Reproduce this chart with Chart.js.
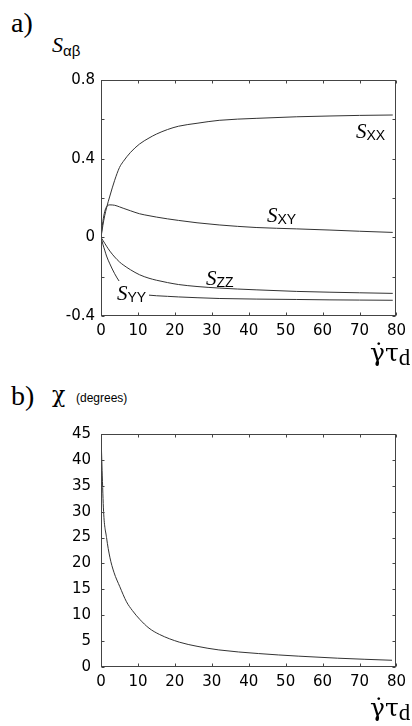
<!DOCTYPE html>
<html>
<head>
<meta charset="utf-8">
<script src="https://cdn.jsdelivr.net/npm/chart.js@4"></script>
<style>
  body { margin: 0; background: #fff; width: 412px; height: 726px; position: relative; overflow: hidden; }
  canvas { position: absolute; left: 0; }
</style>
</head>
<body>
<canvas id="orderChart" width="412" height="285" style="top:60px"></canvas>
<canvas id="angleChart" width="412" height="285" style="top:414px"></canvas>
<script>
// shear rate (gamma-dot tau_d) where the order tensor curves were read
const shearRate = [0, 0.5, 1, 1.5, 2.4, 3.7, 5, 6, 8, 10.4, 13, 15, 18, 21, 26, 32, 42, 53, 62, 70, 79];
const sXX = [0, 0.06, 0.11, 0.15, 0.21, 0.29, 0.355, 0.385, 0.432, 0.474, 0.505, 0.525, 0.548, 0.565, 0.58, 0.595, 0.605, 0.613, 0.617, 0.62, 0.622];
const sXY = [0, 0.08, 0.13, 0.155, 0.165, 0.163, 0.155, 0.148, 0.135, 0.12, 0.11, 0.103, 0.094, 0.086, 0.074, 0.063, 0.05, 0.043, 0.037, 0.031, 0.025];
const sZZ = [0, -0.015, -0.03, -0.045, -0.07, -0.1, -0.125, -0.14, -0.165, -0.19, -0.208, -0.218, -0.23, -0.24, -0.25, -0.258, -0.267, -0.275, -0.279, -0.282, -0.285];
const sYY = [0, -0.035, -0.065, -0.095, -0.135, -0.185, -0.225, -0.245, -0.27, -0.286, -0.294, -0.297, -0.3, -0.303, -0.307, -0.311, -0.314, -0.316, -0.318, -0.319, -0.32];

// extinction angle chi (degrees)
const chiShear = [0, 0.3, 0.7, 1.5, 2.4, 3.5, 5.1, 6.9, 8.5, 10.5, 13, 15.8, 21.2, 26, 31.9, 42.6, 53.4, 64.1, 78.8];
const chiDeg = [45, 38, 30, 25, 21.2, 18.3, 15.5, 12.6, 10.9, 9.2, 7.5, 6.3, 4.8, 4.0, 3.3, 2.6, 2.1, 1.7, 1.3];

const sTickLabels = ['-0.4', '0', '0.4', '0.8'];

const lineColor = '#333';
const sans = "'Liberation Sans', Arial, sans-serif";
const serif = "'Liberation Serif', 'Times New Roman', serif";
const greek = "'DejaVu Serif', serif";

Chart.defaults.font.family = "'DejaVu Sans', sans-serif";
Chart.defaults.color = '#000';

const pts = (xs, ys) => xs.map((x, i) => ({ x, y: ys[i] }));

// frame plus small inward tick marks on all four sides, taken from the scale ticks
const frameTicks = {
  id: 'frameTicks',
  afterDraw(chart) {
    const { ctx, chartArea: a, scales: { x, y } } = chart;
    const L = Math.round(a.left) + 0.5, R = Math.round(a.right) - 0.5;
    const T = Math.round(a.top) + 0.5, B = Math.round(a.bottom) - 0.5;
    ctx.save();
    ctx.strokeStyle = '#444';
    ctx.lineWidth = 1;
    ctx.strokeRect(L, T, R - L, B - T);
    ctx.beginPath();
    x.ticks.forEach(t => {
      const px = Math.round(x.getPixelForValue(t.value)) + 0.5;
      ctx.moveTo(px, B); ctx.lineTo(px, B - 3);
      ctx.moveTo(px, T); ctx.lineTo(px, T + 3);
    });
    y.ticks.forEach(t => {
      const py = Math.round(y.getPixelForValue(t.value)) + 0.5;
      ctx.moveTo(L, py); ctx.lineTo(L + 3, py);
      ctx.moveTo(R, py); ctx.lineTo(R - 3, py);
    });
    ctx.stroke();
    ctx.restore();
  }
};

function lineSet(data) {
  return { data, borderColor: lineColor, borderWidth: 1, pointRadius: 0, fill: false, cubicInterpolationMode: 'monotone' };
}

function makeChart(id, datasets, yOpts, xHeight) {
  return new Chart(document.getElementById(id), {
    type: 'line',
    data: { datasets },
    options: {
      responsive: false,
      animation: false,
      devicePixelRatio: 1,
      layout: { padding: { top: 20, right: 12, bottom: 0, left: 0 } },
      plugins: { legend: { display: false }, tooltip: { enabled: false } },
      scales: {
        x: {
          type: 'linear', min: 0, max: 80,
          grid: { display: false, drawTicks: false }, border: { display: false },
          ticks: { stepSize: 10, autoSkip: false, maxRotation: 0, padding: 6, font: { size: 15 } },
          afterFit(s) { s.height = xHeight; }
        },
        y: Object.assign({
          grid: { display: false, drawTicks: false }, border: { display: false },
          afterFit(s) { s.width = 101; }
        }, yOpts)
      }
    },
    plugins: [frameTicks]
  });
}

makeChart('orderChart', [
  lineSet(pts(shearRate, sXX)),
  lineSet(pts(shearRate, sXY)),
  lineSet(pts(shearRate, sZZ)),
  lineSet(pts(shearRate, sYY))
], {
  min: -0.4, max: 0.8,
  ticks: {
    stepSize: 0.2, autoSkip: false, padding: 6, font: { size: 15 },
    callback(v) { const s = String(+v.toFixed(1)); return sTickLabels.includes(s) ? s : ''; }
  }
}, 29);

makeChart('angleChart', [
  lineSet(pts(chiShear, chiDeg))
], {
  min: 0, max: 45,
  ticks: { stepSize: 5, autoSkip: false, padding: 10, font: { size: 15 } }
}, 32);

// text placed by baseline
function place(html, x, base, font, extra) {
  const d = document.createElement('div');
  d.style.cssText = `position:absolute;left:${x}px;top:0;white-space:nowrap;font:${font};line-height:1;color:#000;${extra || ''}`;
  d.innerHTML = html + '<span style="display:inline-block;width:0;height:0"></span>';
  document.body.appendChild(d);
  const b = d.lastChild.getBoundingClientRect().top;
  d.style.top = (base - b) + 'px';
  return d;
}

const sub = (t, size, drop) => `<span style="font:${size}px ${sans};position:relative;top:${drop}px">${t}</span>`;
const sLabel = (t) => `<i style="font:italic 21px ${serif}">S</i>${sub(t, 14, 2)}`;
const rateLabel = `<span style="font:25px ${greek}">&#947;&#775;&#964;</span><span style="font:23px ${serif};position:relative;top:4px">d</span>`;

place('a)', 11, 32, `28px ${serif}`);
place(`<i style="font:italic 22px ${serif}">S</i>${sub('&#945;&#946;', 15, 4)}`, 52, 52, `22px ${serif}`);
place(sLabel('XX'), 356, 138, `21px ${serif}`);
place(sLabel('XY'), 267, 222, `21px ${serif}`);
place(sLabel('ZZ'), 206, 285, `21px ${serif}`);
place(sLabel('YY'), 117, 300, `21px ${serif}`, 'background:#fff;padding-right:3px');
place(rateLabel, 370, 361, `25px ${greek}`);

place('b)', 11, 405, `28px ${serif}`);
place('&#967;', 52, 402, `22px ${greek}`);
place('(degrees)', 76, 402, `12px ${sans}`);
place(rateLabel, 370, 716, `25px ${greek}`);
</script>
</body>
</html>
